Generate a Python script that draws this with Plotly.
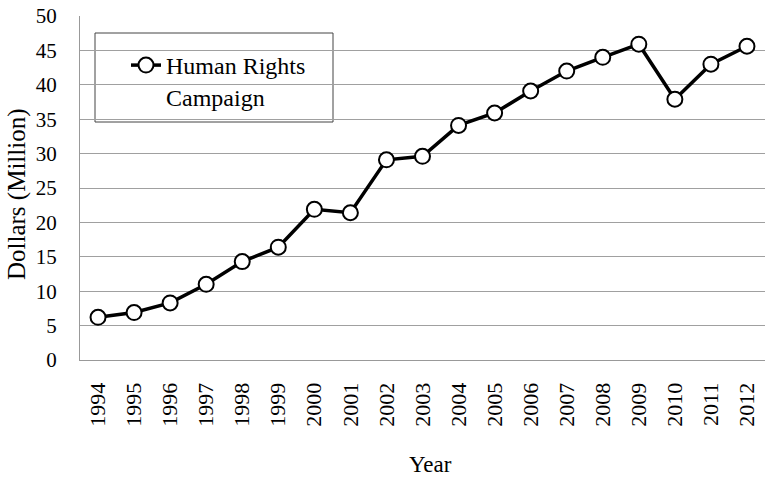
import plotly.graph_objects as go

years = [str(y) for y in range(1994, 2013)]
dollars = [6.2, 6.9, 8.3, 11.0, 14.3, 16.4, 21.9, 21.4, 29.1, 29.6, 34.1, 35.9,
           39.1, 42.0, 44.0, 45.9, 37.9, 43.0, 45.6]
series_name = "Human Rights<br>Campaign"
y_ticks = list(range(0, 51, 5))
x_title = "Year"
y_title = "Dollars (Million)"

FONT = "Liberation Serif, Times New Roman, serif"
W, H = 765, 477
L, R, T, B = 80, 0, 16, 117
PW, PH = W - L - R, H - T - B

def px_x(px):
    return (px - L) / PW

def px_y(py):
    return (H - B - py) / PH

fig = go.Figure()
fig.add_trace(go.Scatter(
    x=years, y=dollars, mode="lines+markers", name=series_name,
    line=dict(color="black", width=3.5),
    marker=dict(size=15, color="white", line=dict(color="black", width=2)),
    showlegend=True,
))

fig.update_layout(
    width=W, height=H,
    margin=dict(l=L, r=R, t=T, b=B, autoexpand=False),
    paper_bgcolor="white", plot_bgcolor="white",
    font=dict(family=FONT, size=21, color="black"),
    showlegend=True,
    legend=dict(x=px_x(126), y=px_y(43), xanchor="left", yanchor="top",
                valign="top",
                bgcolor="rgba(0,0,0,0)", borderwidth=0,
                font=dict(family=FONT, size=24, color="black")),
    shapes=[dict(type="rect", xref="paper", yref="paper",
                 x0=px_x(95), x1=px_x(333), y0=px_y(122), y1=px_y(33),
                 line=dict(color="#444444", width=1), fillcolor="white", layer="below")],
    annotations=[
        dict(text=y_title, xref="paper", yref="paper", x=px_x(17), y=px_y(194),
             xanchor="center", yanchor="middle", textangle=-90, showarrow=False,
             font=dict(family=FONT, size=25, color="black")),
        dict(text=x_title, xref="paper", yref="paper", x=px_x(430), y=px_y(464),
             xanchor="center", yanchor="middle", showarrow=False,
             font=dict(family=FONT, size=23, color="black")),
    ],
    xaxis=dict(type="category", range=[-0.5, 18.5], tickangle=-90,
               showgrid=False, showline=True, linecolor="#999999", linewidth=1,
               ticks="", ticklabelstandoff=13, automargin=False,
               tickfont=dict(family=FONT, size=22)),
    yaxis=dict(range=[0, 50], tickvals=y_ticks, showgrid=True, gridcolor="#a0a0a0",
               gridwidth=1, showline=True, linecolor="#999999", linewidth=1,
               ticks="", zeroline=False, ticklabelstandoff=18, automargin=False,
               tickfont=dict(family=FONT, size=21)),
)

fig.write_html("out.html", config={"displayModeBar": False},
               post_script="document.body.style.margin='0px';document.body.style.overflow='hidden';")
